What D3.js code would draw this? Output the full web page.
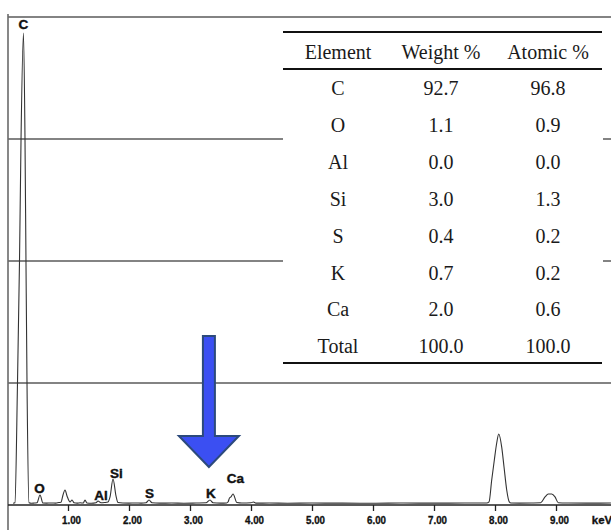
<!DOCTYPE html>
<html>
<head>
<meta charset="utf-8">
<script src="https://cdn.jsdelivr.net/npm/d3@7"></script>
<style>
  body { margin: 0; background: #fff; }
  svg { display: block; }
</style>
</head>
<body>
<div id="chart"></div>
<script>
// spectrum (keV, counts)
var energy = [0.10, 0.13, 0.172, 0.205, 0.230, 0.270, 0.295, 0.311, 0.328, 0.361, 0.40, 0.45,
    0.492, 0.541, 0.590, 0.65, 0.72, 0.80, 0.85, 0.885, 0.918, 0.951, 0.984, 1.033, 1.066, 1.10,
    1.15, 1.20, 1.25, 1.279, 1.31, 1.38, 1.459, 1.492, 1.541, 1.60, 1.656, 1.689, 1.738, 1.787,
    1.820, 1.90, 2.00, 2.10, 2.20, 2.279, 2.328, 2.377, 2.5, 2.7, 2.9, 3.1, 3.262, 3.328, 3.377,
    3.5, 3.60, 3.623, 3.648, 3.672, 3.705, 3.770, 3.85, 4.0, 4.04, 4.08, 4.3, 4.6, 5.0, 5.5, 6.0,
    6.5, 7.0, 7.5, 7.864, 7.902, 7.946, 7.989, 8.028, 8.061, 8.110, 8.148, 8.192, 8.234, 8.262,
    8.4, 8.6, 8.749, 8.820, 8.874, 8.930, 8.984, 9.038, 9.2, 9.5, 9.9];
var counts = [14, 18, 1000, 2000, 3000, 3869, 3000, 2000, 1000, 18, 14, 16,
    18, 82, 16, 15, 17, 15, 20, 22, 82, 123, 74, 25, 41, 18,
    15, 18, 16, 41, 16, 14, 18, 33, 18, 20, 25, 66, 213, 74,
    20, 16, 15, 17, 15, 18, 41, 18, 15, 16, 14, 16, 18, 41, 18,
    15, 17, 25, 57, 66, 90, 20, 16, 18, 25, 15, 16, 14, 16, 15, 14,
    16, 15, 16, 16, 25, 205, 369, 508, 582, 475, 311, 123, 25, 16,
    15, 16, 18, 66, 90, 90, 66, 18, 16, 15, 16];

// peak labels
var peakNames = ["C", "O", "Al", "Si", "S", "K", "Ca"];
var peakKeV = [0.27, 0.533, 1.54, 1.795, 2.336, 3.344, 3.746];
var peakCounts = [3902, 98, 41, 221, 57, 57, 180];

var xTicks = [1, 2, 3, 4, 5, 6, 7, 8, 9];
var yGrid = [1000, 2000, 3000, 4000];

// table
var tableHeader = ["Element", "Weight %", "Atomic %"];
var elements = ["C", "O", "Al", "Si", "S", "K", "Ca", "Total"];
var weightPct = ["92.7", "1.1", "0.0", "3.0", "0.4", "0.7", "2.0", "100.0"];
var atomicPct = ["96.8", "0.9", "0.0", "1.3", "0.2", "0.2", "0.6", "100.0"];

// arrow pointing at K
var arrowKeV = 3.31;
var arrowTipCount = 311;

var width = 611, height = 530;

var svg = d3.select("#chart").append("svg")
    .attr("width", width)
    .attr("height", height);

var x = d3.scaleLinear().domain([0, 10]).range([7, 617]);
var y = d3.scaleLinear().domain([0, 4000]).range([505, 17]);

// gridlines
svg.selectAll(".grid")
    .data(yGrid)
    .enter().append("line")
    .attr("class", "grid")
    .attr("x1", 8)
    .attr("x2", width)
    .attr("y1", function (d) { return y(d); })
    .attr("y2", function (d) { return y(d); })
    .attr("stroke", "#5a5a5a")
    .attr("stroke-width", 1.4);

// left border
svg.append("line")
    .attr("x1", 8).attr("x2", 8)
    .attr("y1", y(4000) - 3).attr("y2", height)
    .attr("stroke", "#6a6a6a")
    .attr("stroke-width", 1.6);

// x axis
var xAxis = d3.axisBottom(x)
    .tickValues(xTicks)
    .tickSize(6)
    .tickFormat(d3.format(".2f"));

var gx = svg.append("g")
    .attr("transform", "translate(0," + y(0) + ")")
    .call(xAxis);

gx.select(".domain").remove();
gx.append("line")
    .attr("x1", 8).attr("x2", width)
    .attr("stroke", "#222")
    .attr("stroke-width", 1.4);
gx.selectAll(".tick line").attr("stroke", "#222").attr("stroke-width", 1.3);
gx.selectAll(".tick text")
    .attr("y", 19)
    .attr("dy", 0)
    .attr("dx", 3)
    .attr("fill", "#111")
    .attr("stroke", "#111")
    .attr("stroke-width", 0.35)
    .attr("textLength", 19)
    .attr("lengthAdjust", "spacingAndGlyphs")
    .style("font-family", "'Liberation Sans', Arial, sans-serif")
    .style("font-weight", "bold")
    .style("font-size", "11.5px");

svg.append("text")
    .attr("x", 602)
    .attr("y", 524)
    .attr("text-anchor", "middle")
    .attr("fill", "#111")
    .attr("stroke", "#111")
    .attr("stroke-width", 0.35)
    .style("font-family", "'Liberation Sans', Arial, sans-serif")
    .style("font-weight", "bold")
    .style("font-size", "11.5px")
    .text("keV");

// spectrum
var spectrum = energy.map(function (e, i) { return [e, counts[i]]; });

var line = d3.line()
    .x(function (d) { return x(d[0]); })
    .y(function (d) { return y(d[1]); })
    .curve(d3.curveMonotoneX);

svg.append("path")
    .datum(spectrum)
    .attr("d", line)
    .attr("fill", "none")
    .attr("stroke", "#333")
    .attr("stroke-width", 1.1);

// peak labels
svg.selectAll(".peak_label")
    .data(peakNames)
    .enter().append("text")
    .attr("class", "peak_label")
    .attr("x", function (d, i) { return x(peakKeV[i]); })
    .attr("y", function (d, i) { return y(peakCounts[i]); })
    .attr("text-anchor", "middle")
    .attr("fill", "#111")
    .attr("stroke", "#111")
    .attr("stroke-width", 0.4)
    .style("font-family", "'Liberation Sans', Arial, sans-serif")
    .style("font-weight", "bold")
    .style("font-size", "13.5px")
    .text(function (d) { return d; });

// table
var tbl = svg.append("g").attr("class", "table");
var colX = [338, 441, 548];
var rowY0 = 95, rowStep = 36.9;

tbl.append("rect")
    .attr("x", 283).attr("y", 20)
    .attr("width", 320).attr("height", 350)
    .attr("fill", "#fff");

[32, 69, 363].forEach(function (ry) {
    tbl.append("line")
        .attr("x1", 283).attr("x2", 602)
        .attr("y1", ry).attr("y2", ry)
        .attr("stroke", "#111")
        .attr("stroke-width", 2);
});

var tfont = "'Liberation Serif', 'Times New Roman', serif";

tbl.selectAll(".hdr")
    .data(tableHeader)
    .enter().append("text")
    .attr("class", "hdr")
    .attr("x", function (d, i) { return colX[i]; })
    .attr("y", 59)
    .attr("text-anchor", "middle")
    .attr("fill", "#1a1a1a")
    .style("font-family", tfont)
    .style("font-size", "20px")
    .text(function (d) { return d; });

var cols = [elements, weightPct, atomicPct];
cols.forEach(function (col, ci) {
    tbl.selectAll(".c" + ci)
        .data(col)
        .enter().append("text")
        .attr("class", "c" + ci)
        .attr("x", colX[ci])
        .attr("y", function (d, i) { return rowY0 + i * rowStep; })
        .attr("text-anchor", "middle")
        .attr("fill", "#1a1a1a")
        .style("font-family", tfont)
        .style("font-size", "20px")
        .text(function (d) { return d; });
});

// blue arrow
var ax = x(arrowKeV), ay = y(arrowTipCount);
var arrowPts = [
    [ax - 6, ay - 131], [ax + 6, ay - 131], [ax + 6, ay - 31], [ax + 30, ay - 31],
    [ax, ay], [ax - 30, ay - 31], [ax - 6, ay - 31]
];
svg.append("path")
    .attr("d", d3.line()(arrowPts) + "Z")
    .attr("fill", "#3b4ff2")
    .attr("stroke", "#2c4a7c")
    .attr("stroke-width", 2)
    .attr("stroke-linejoin", "miter");
</script>
</body>
</html>
